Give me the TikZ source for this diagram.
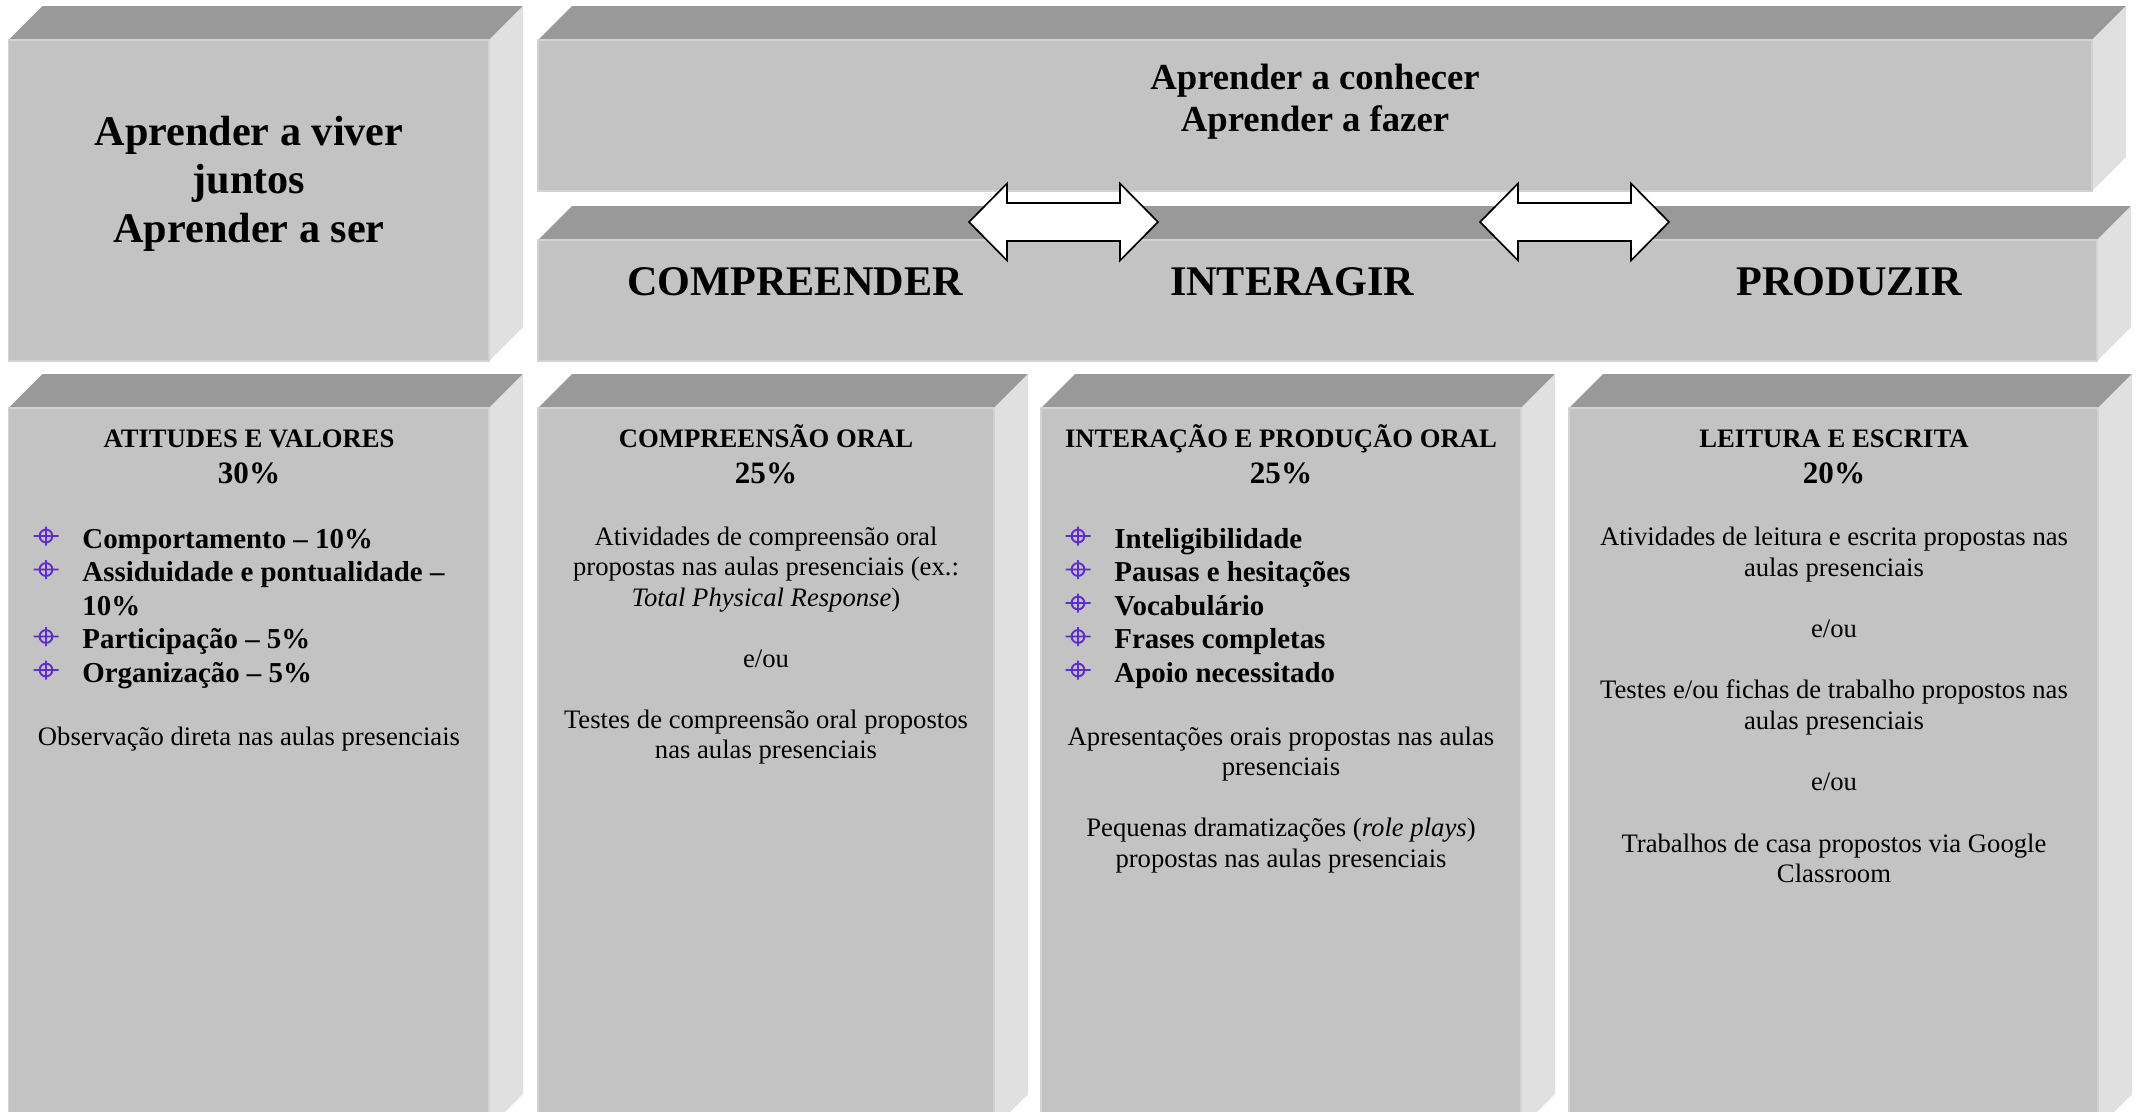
\documentclass[tikz,border=0pt]{standalone}
\usepackage{fontspec}
\setmainfont{Liberation Serif}
\usetikzlibrary{calc}
\definecolor{frontgray}{RGB}{195,195,195}
\definecolor{topgray}{RGB}{153,153,153}
\definecolor{sidegray}{RGB}{224,224,224}
\definecolor{edgegray}{RGB}{210,210,210}
\definecolor{bulletpurple}{RGB}{95,45,200}
\newcommand{\drawcuboid}[5]{%
  \fill[topface] (#2,#3) -- (#2+34,#3-34) -- (#4+34,#3-34) -- (#4,#3) -- cycle;
  \fill[sideface] (#4,#3) -- (#4+34,#3-34) -- (#4+34,#5-34) -- (#4,#5) -- cycle;
  \path[frontface] (#2,#3) rectangle (#4,#5);
  \coordinate (#1) at ($(#2,#3)!0.5!(#4,#5)$);
}
\begin{document}
\begin{tikzpicture}[x=0.45pt,y=-0.45pt,
  topface/.style={fill=topgray},
  sideface/.style={fill=sidegray},
  frontface/.style={fill=frontgray, draw=edgegray, line width=0.8pt},
  bigtitle/.style={inner sep=0pt, anchor=base, font=\bfseries\fontsize{19}{21.8}\selectfont},
  midtitle/.style={inner sep=0pt, anchor=base, font=\bfseries\fontsize{16.5}{19}\selectfont},
  hdr/.style={inner sep=0pt, anchor=base, font=\bfseries\fontsize{12}{13.7}\selectfont},
  pct/.style={inner sep=0pt, anchor=base, font=\bfseries\fontsize{14}{16}\selectfont},
  bul/.style={inner sep=0pt, anchor=base west, font=\bfseries\fontsize{13}{15}\selectfont},
  bodytxt/.style={inner sep=0pt, anchor=base, font=\fontsize{12}{13.7}\selectfont},
  arrowshape/.style={draw=black, fill=white, line width=0.75pt, line join=miter},
  pics/dblarrow/.style={code={
    \draw[arrowshape] (-94.5,0) -- (-56.5,-38.5) -- (-56.5,-19) -- (56.5,-19)
      -- (56.5,-38.5) -- (94.5,0) -- (56.5,38.5) -- (56.5,19) -- (-56.5,19)
      -- (-56.5,38.5) -- cycle;}},
  pics/crossbullet/.style={code={
    \draw[bulletpurple, line width=0.85pt] (0,0) circle[radius=2.9pt]
      (-12.5,0) -- (12.5,0) (0,-9.5) -- (0,9.5);}}
]
\useasboundingbox (0,0) rectangle (2137,1111);
\fill[white] (0,0) rectangle (2137,1111);
\clip (0,0) rectangle (2137,1111);

% boxes
\drawcuboid{b1}{8.5}{40}{489}{361}
\drawcuboid{b2}{538}{40}{2092}{191}
\drawcuboid{b3}{538}{240}{2097}{361}
\drawcuboid{b4}{8.5}{408}{489}{1128}
\drawcuboid{b5}{538}{408}{994}{1128}
\drawcuboid{b6}{1041}{408}{1521}{1128}
\drawcuboid{b7}{1569}{408}{2098}{1128}

% double arrows
\coordinate (ar1) at (1063.5,222);
\coordinate (ar2) at (1574.5,222);
\pic at (ar1) {dblarrow};
\pic at (ar2) {dblarrow};

% box 1
\node[bigtitle] (t1a) at (249,145) {Aprender a viver};
\node[bigtitle] (t1b) at (249,193.5) {juntos};
\node[bigtitle] (t1c) at (249,242) {Aprender a ser};

% box 2
\node[midtitle] (t2a) at (1315,89) {Aprender a conhecer};
\node[midtitle] (t2b) at (1315,131.5) {Aprender a fazer};

% box 3
\node[bigtitle] (t3a) at (795,295) {COMPREENDER};
\node[bigtitle] (t3b) at (1292,295) {INTERAGIR};
\node[bigtitle] (t3c) at (1849,295) {PRODUZIR};

% box 4
\node[hdr] (h4) at (249,447) {ATITUDES E VALORES};
\node[pct] (p4) at (249,483) {30\%};
\pic at (46,536) {crossbullet};
\pic at (46,569.5) {crossbullet};
\pic at (46,636.5) {crossbullet};
\pic at (46,670) {crossbullet};
\node[bul] (i4a) at (82,548) {Comportamento – 10\%};
\node[bul] (i4b) at (82,581.5) {Assiduidade e pontualidade –};
\node[bul] (i4c) at (82,615) {10\%};
\node[bul] (i4d) at (82,648.5) {Participação – 5\%};
\node[bul] (i4e) at (82,682) {Organização – 5\%};
\node[bodytxt] (l4a) at (249,745) {Observação direta nas aulas presenciais};

% box 5
\node[hdr] (h5) at (766,447) {COMPREENSÃO ORAL};
\node[pct] (p5) at (766,483) {25\%};
\node[bodytxt] (l5a) at (766,545) {Atividades de compreensão oral};
\node[bodytxt] (l5b) at (766,575.5) {propostas nas aulas presenciais (ex.:};
\node[bodytxt] (l5c) at (766,606) {\itshape Total Physical Response\upshape)};
\node[bodytxt] (l5d) at (766,667) {e/ou};
\node[bodytxt] (l5e) at (766,728) {Testes de compreensão oral propostos};
\node[bodytxt] (l5f) at (766,758.5) {nas aulas presenciais};

% box 6
\node[hdr] (h6) at (1281,447) {INTERAÇÃO E PRODUÇÃO ORAL};
\node[pct] (p6) at (1281,483) {25\%};
\pic at (1078,536) {crossbullet};
\pic at (1078,569.5) {crossbullet};
\pic at (1078,603) {crossbullet};
\pic at (1078,636.5) {crossbullet};
\pic at (1078,670) {crossbullet};
\node[bul] (i6a) at (1114,548) {Inteligibilidade};
\node[bul] (i6b) at (1114,581.5) {Pausas e hesitações};
\node[bul] (i6c) at (1114,615) {Vocabulário};
\node[bul] (i6d) at (1114,648.5) {Frases completas};
\node[bul] (i6e) at (1114,682) {Apoio necessitado};
\node[bodytxt] (l6a) at (1281,745) {Apresentações orais propostas nas aulas};
\node[bodytxt] (l6b) at (1281,775.5) {presenciais};
\node[bodytxt] (l6c) at (1281,836.5) {Pequenas dramatizações ({\itshape role plays})};
\node[bodytxt] (l6d) at (1281,867) {propostas nas aulas presenciais};

% box 7
\node[hdr] (h7) at (1834,447) {LEITURA E ESCRITA};
\node[pct] (p7) at (1834,483) {20\%};
\node[bodytxt] (l7a) at (1834,545) {Atividades de leitura e escrita propostas nas};
\node[bodytxt] (l7b) at (1834,576) {aulas presenciais};
\node[bodytxt] (l7c) at (1834,637) {e/ou};
\node[bodytxt] (l7d) at (1834,698) {Testes e/ou fichas de trabalho propostos nas};
\node[bodytxt] (l7e) at (1834,729) {aulas presenciais};
\node[bodytxt] (l7f) at (1834,790) {e/ou};
\node[bodytxt] (l7g) at (1834,852) {Trabalhos de casa propostos via Google};
\node[bodytxt] (l7h) at (1834,882) {Classroom};
\end{tikzpicture}
\end{document}
